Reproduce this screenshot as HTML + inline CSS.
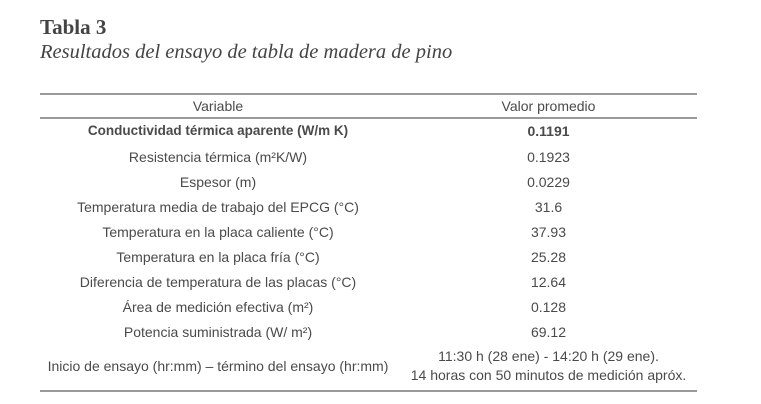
<!DOCTYPE html>
<html><head><meta charset="utf-8"><style>
body{margin:0;width:761px;height:404px;background:#fff;position:relative;overflow:hidden;font-family:"Liberation Sans",sans-serif;color:#4a4a4a}
.t{position:absolute;white-space:nowrap}
.c1{position:absolute;left:40px;width:356px;text-align:center;font-size:14px;white-space:nowrap}
.c2{position:absolute;left:400px;width:297px;text-align:center;font-size:14px;white-space:nowrap}
.ln{position:absolute;left:40px;width:657px;height:1.5px;background:#9a9a9a}
</style></head><body>
<div class="t" style="left:40px;top:15px;font-family:'Liberation Serif',serif;font-weight:bold;font-size:21px;color:#444">Tabla 3</div>
<div class="t" style="left:40px;top:41px;font-family:'Liberation Serif',serif;font-style:italic;font-size:20.5px;color:#444">Resultados del ensayo de tabla de madera de pino</div>
<div class="ln" style="top:93px"></div>
<div class="ln" style="top:117px"></div>
<div class="ln" style="top:390px"></div>
<div class="c1" style="top:98px">Variable</div><div class="c2" style="top:98px">Valor promedio</div>
<div class="c1" style="top:123px;font-weight:bold;font-size:13.5px">Conductividad térmica aparente (W/m K)</div><div class="c2" style="top:123px;font-weight:bold">0.1191</div>
<div class="c1" style="top:149px">Resistencia térmica (m²K/W)</div><div class="c2" style="top:149px">0.1923</div>
<div class="c1" style="top:174px">Espesor (m)</div><div class="c2" style="top:174px">0.0229</div>
<div class="c1" style="top:199px">Temperatura media de trabajo del EPCG (°C)</div><div class="c2" style="top:199px">31.6</div>
<div class="c1" style="top:224px">Temperatura en la placa caliente (°C)</div><div class="c2" style="top:224px">37.93</div>
<div class="c1" style="top:249px">Temperatura en la placa fría (°C)</div><div class="c2" style="top:249px">25.28</div>
<div class="c1" style="top:274px">Diferencia de temperatura de las placas (°C)</div><div class="c2" style="top:274px">12.64</div>
<div class="c1" style="top:299px">Área de medición efectiva (m²)</div><div class="c2" style="top:299px">0.128</div>
<div class="c1" style="top:324px">Potencia suministrada (W/ m²)</div><div class="c2" style="top:324px">69.12</div>
<div class="c1" style="top:358px">Inicio de ensayo (hr:mm) – término del ensayo (hr:mm)</div>
<div class="c2" style="top:348px">11:30 h (28 ene) - 14:20 h (29 ene).</div>
<div class="c2" style="top:367px">14 horas con 50 minutos de medición apróx.</div>
</body></html>
